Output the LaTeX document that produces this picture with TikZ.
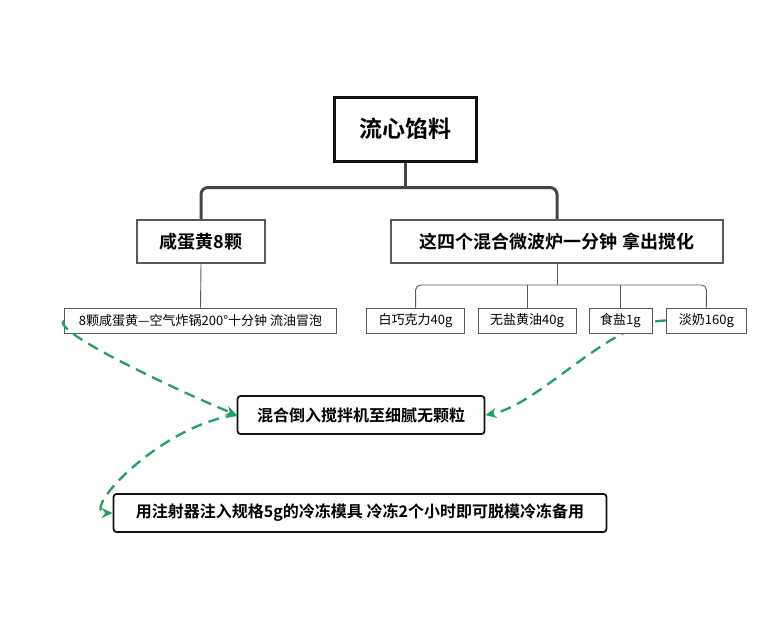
\documentclass[tikz,border=0pt]{standalone}
\usepackage{fontspec}
\usepackage{xcolor}
\usepackage{tikz}
\usetikzlibrary{calc,arrows.meta,backgrounds}
\newfontfamily\cjk{Noto Sans CJK SC}[BoldFont={Noto Sans CJK SC Bold}]
\definecolor{ink}{HTML}{111111}
\definecolor{wire}{HTML}{454545}
\definecolor{thin}{HTML}{5A5A5A}
\definecolor{leafgreen}{HTML}{22A062}
\tikzset{
  root/.style={draw=ink, line width=3pt, fill=white, minimum width=142pt, minimum height=64pt,
    font=\cjk\bfseries\fontsize{23}{27}\selectfont},
  lvl/.style={draw=thin, line width=2pt, fill=white, minimum height=43pt,
    font=\cjk\bfseries\fontsize{18}{22}\selectfont},
  leaf/.style={draw=thin, line width=0.9pt, fill=white, minimum height=25pt, inner sep=0pt,
    font=\cjk\fontsize{13}{15}\selectfont},
  proc/.style={draw=ink, line width=1.8pt, fill=white, rounded corners=3pt, minimum height=38pt,
    font=\cjk\bfseries\fontsize{16}{19}\selectfont},
  trunk/.style={draw=wire, line width=3pt, rounded corners=7pt},
  twig/.style={draw=thin, line width=0.9pt, rounded corners=5pt},
  flow/.style={draw=leafgreen, line width=2.3pt, dash pattern=on 11pt off 7pt,
    -{Stealth[length=11pt,width=10pt]}},
}
\begin{document}
\begin{tikzpicture}[x=1pt,y=-1pt]
  \useasboundingbox (0,0) rectangle (782,629);

  % tree
  \node[root] (top) at (405,129) {流心馅料};
  \node[lvl, minimum width=128pt] (yolk) at (201,241.5) {咸蛋黄8颗};
  \node[lvl, minimum width=332pt] (melt) at (557,241.5) {这四个混合微波炉一分钟 拿出搅化};

  \node[leaf, minimum width=272pt] (fry) at (200.5,320.5) {8颗咸蛋黄—空气炸锅200°十分钟 流油冒泡};
  \node[leaf, minimum width=98pt] (choc) at (415.6,320.5) {白巧克力40g};
  \node[leaf, minimum width=98pt] (butter) at (527,320.5) {无盐黄油40g};
  \node[leaf, minimum width=63pt] (salt) at (620.5,320.5) {食盐1g};
  \node[leaf, minimum width=79.5pt] (milk) at (706.4,320.5) {淡奶160g};

  \coordinate (hubA) at ($(top.south)+(0,25)$);
  \coordinate (hubB) at ($(melt.south)+(0,21)$);

  \draw[trunk] (top.south) -- (hubA);
  \draw[trunk] (yolk.north) |- (hubA) -| (melt.north);
  \draw[twig] (yolk.south) -- (fry.north);
  \draw[twig] (melt.south) -- (hubB);
  \draw[twig] (choc.north) |- (hubB) -| (milk.north);
  \draw[twig] (butter.north) -- (butter.north |- hubB);
  \draw[twig] (salt.north) -- (salt.north |- hubB);

  % steps
  \node[proc, minimum width=247pt] (mix) at (361,415) {混合倒入搅拌机至细腻无颗粒};
  \node[proc, minimum width=493pt] (mould) at (360,513) {用注射器注入规格5g的冷冻模具 冷冻2个小时即可脱模冷冻备用};

  \begin{scope}[on background layer]
    \fill[white] (0,0) rectangle (782,629);
    \draw[flow] (milk.west) .. controls +(-56,0) and +(54,-10) .. (mix.east);
  \end{scope}
  \draw[flow] (fry.west) .. controls +(-15,10) and +(-60,-25) .. (mix.west);
  \draw[flow] (mix.west) .. controls +(-77,10) and +(-34,0) .. (mould.west);
\end{tikzpicture}
\end{document}
